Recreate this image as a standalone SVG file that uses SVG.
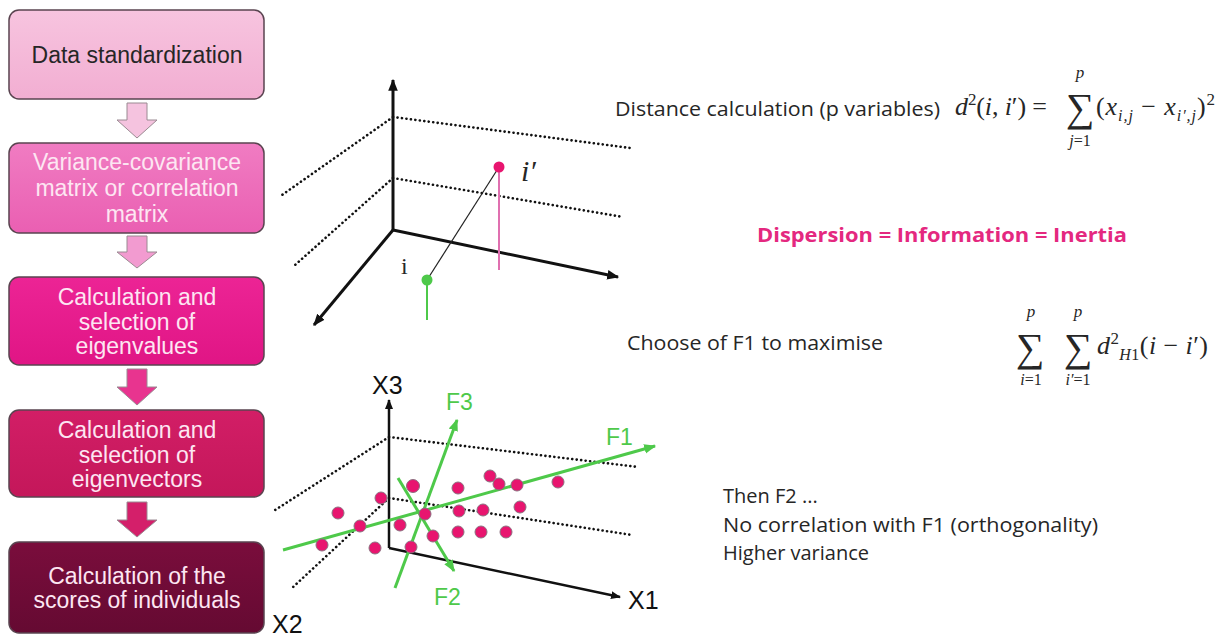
<svg xmlns="http://www.w3.org/2000/svg" width="1227" height="637" viewBox="0 0 1227 637">
<defs>
<style>
.box{stroke:#5a4450;stroke-width:1.5}
.bt{font-family:"Liberation Sans",Arial,sans-serif;font-size:23px;text-anchor:middle}
.dark{fill:#262626}
.light{fill:#fde6f2}
.ax{stroke:#111;stroke-width:3;fill:none}
.dot{stroke:#111;stroke-width:2.6;stroke-dasharray:0.1 4.4;stroke-linecap:round;fill:none}
.grn{stroke:#4ec94a;stroke-width:3;fill:none}
.pt{fill:#e8156f;stroke:#8c7080;stroke-width:1}
.lbl{font-family:"Liberation Sans",Arial,sans-serif;font-size:25px;fill:#111}
.glbl{font-family:"Liberation Sans",Arial,sans-serif;font-size:23px;fill:#4ec94a}
.txt{font-family:"Open Sans","Noto Sans",sans-serif;font-size:20px;fill:#262626}
.m{font-family:"Liberation Serif","DejaVu Serif",serif;fill:#262626}
.it{font-style:italic}
.arr{stroke:#9a8a92;stroke-width:1}
</style>
<linearGradient id="g1" x1="0" y1="0" x2="0" y2="1"><stop offset="0" stop-color="#f7c4df"/><stop offset="1" stop-color="#f2aed2"/></linearGradient>
<linearGradient id="g2" x1="0" y1="0" x2="0" y2="1"><stop offset="0" stop-color="#f07cc2"/><stop offset="1" stop-color="#ea5fb2"/></linearGradient>
<linearGradient id="g3" x1="0" y1="0" x2="0" y2="1"><stop offset="0" stop-color="#ec2495"/><stop offset="1" stop-color="#e01585"/></linearGradient>
<linearGradient id="g4" x1="0" y1="0" x2="0" y2="1"><stop offset="0" stop-color="#d21e66"/><stop offset="1" stop-color="#c4175a"/></linearGradient>
<linearGradient id="g5" x1="0" y1="0" x2="0" y2="1"><stop offset="0" stop-color="#7a0d3c"/><stop offset="1" stop-color="#650a32"/></linearGradient>
<marker id="ah" viewBox="0 0 10 10" refX="9" refY="5" markerWidth="4" markerHeight="4" orient="auto" markerUnits="strokeWidth"><path d="M0,1 L10,5 L0,9 z" fill="#111"/></marker>
<marker id="ahg" viewBox="0 0 10 10" refX="9" refY="5" markerWidth="4" markerHeight="4" orient="auto" markerUnits="strokeWidth"><path d="M0,1 L10,5 L0,9 z" fill="#4ec94a"/></marker>
</defs>
<rect width="1227" height="637" fill="#ffffff"/>

<g id="node-data-standardization">
<rect class="box" x="9" y="10" width="255" height="89" rx="10" fill="url(#g1)"/>
<text class="bt dark" x="137" y="63">Data standardization</text>
</g>
<g id="node-variance-covariance">
<rect class="box" x="9" y="143" width="255" height="90" rx="10" fill="url(#g2)"/>
<text class="bt light" x="137" y="170">Variance-covariance</text>
<text class="bt light" x="137" y="196">matrix or correlation</text>
<text class="bt light" x="137" y="222">matrix</text>
</g>
<g id="node-eigenvalues">
<rect class="box" x="9" y="277" width="255" height="88" rx="10" fill="url(#g3)"/>
<text class="bt light" x="137" y="305">Calculation and</text>
<text class="bt light" x="137" y="330">selection of</text>
<text class="bt light" x="137" y="354">eigenvalues</text>
</g>
<g id="node-eigenvectors">
<rect class="box" x="9" y="410" width="255" height="87" rx="10" fill="url(#g4)"/>
<text class="bt light" x="137" y="438">Calculation and</text>
<text class="bt light" x="137" y="463">selection of</text>
<text class="bt light" x="137" y="487">eigenvectors</text>
</g>
<g id="node-scores">
<rect class="box" x="9" y="542" width="255" height="91" rx="10" fill="url(#g5)"/>
<text class="bt light" x="137" y="584">Calculation of the</text>
<text class="bt light" x="137" y="608">scores of individuals</text>
</g>

<g id="connectors">
<path class="arr" d="M127,103 H147 V120 H157 L137,138 L117,120 H127 Z" fill="#f5c3df"/>
<path class="arr" d="M127,236 H147 V252 H157 L137,268 L117,252 H127 Z" fill="#f29bd0"/>
<path class="arr" d="M127,369 H147 V387 H157 L137,405 L117,387 H127 Z" fill="#e8348f"/>
<path class="arr" d="M127,502 H147 V520 H157 L137,537 L117,520 H127 Z" fill="#d41f6a"/>
</g>

<g id="top-3d">
<path class="dot" d="M393,117 L630,148 M393,117 L282,195 M393,178 L623,217 M393,178 L295,265"/>
<line class="ax" x1="393" y1="230" x2="393" y2="80" marker-end="url(#ah)"/>
<line class="ax" x1="393" y1="230" x2="618" y2="277" marker-end="url(#ah)"/>
<line class="ax" x1="393" y1="230" x2="314" y2="325" marker-end="url(#ah)"/>
<line x1="427" y1="280" x2="499" y2="167" stroke="#222" stroke-width="1.2"/>
<line x1="499" y1="167" x2="499" y2="270" stroke="#e070b0" stroke-width="2"/>
<line x1="427" y1="280" x2="427" y2="320" stroke="#4ec94a" stroke-width="2"/>
<circle cx="499" cy="167" r="5.5" fill="#e8156f"/>
<circle cx="427" cy="280" r="5.5" fill="#4ec94a"/>
<text class="m" x="401" y="274" font-size="24">i</text>
<text class="m it" x="521" y="181" font-size="30">i′</text>
</g>

<g id="bottom-3d">
<path class="dot" d="M389,437 L638,467 M389,437 L272,512 M389,498 L632,535 M389,498 L292,588"/>
<line class="ax" x1="389" y1="548" x2="389" y2="400" marker-end="url(#ah)" style="stroke-width:2.5"/>
<line class="ax" x1="389" y1="548" x2="620" y2="597" marker-end="url(#ah)" style="stroke-width:2.5"/>
<line class="grn" x1="283" y1="550" x2="655" y2="446" marker-end="url(#ahg)"/>
<line class="grn" x1="395" y1="588" x2="457" y2="420" marker-end="url(#ahg)"/>
<line class="grn" x1="398" y1="478" x2="454" y2="571" marker-end="url(#ahg)"/>
<g>
<circle class="pt" cx="490" cy="476" r="6"/>
<circle class="pt" cx="499" cy="484" r="6"/>
<circle class="pt" cx="517" cy="485" r="6"/>
<circle class="pt" cx="558" cy="482" r="6"/>
<circle class="pt" cx="413" cy="486" r="6.5"/>
<circle class="pt" cx="458" cy="488" r="6"/>
<circle class="pt" cx="381" cy="498" r="6"/>
<circle class="pt" cx="338" cy="513" r="6"/>
<circle class="pt" cx="360" cy="526" r="6"/>
<circle class="pt" cx="322" cy="545" r="6"/>
<circle class="pt" cx="375" cy="548" r="6"/>
<circle class="pt" cx="400" cy="525" r="6"/>
<circle class="pt" cx="425" cy="514" r="6"/>
<circle class="pt" cx="459" cy="511" r="6"/>
<circle class="pt" cx="483" cy="510" r="6"/>
<circle class="pt" cx="520" cy="507" r="6"/>
<circle class="pt" cx="433" cy="536" r="6"/>
<circle class="pt" cx="458" cy="532" r="6"/>
<circle class="pt" cx="481" cy="532" r="6"/>
<circle class="pt" cx="506" cy="532" r="6"/>
<circle class="pt" cx="411" cy="547" r="6"/>
</g>
<text class="lbl" x="372" y="394">X3</text>
<text class="lbl" x="628" y="609">X1</text>
<text class="lbl" x="272" y="633">X2</text>
<text class="glbl" x="606" y="445">F1</text>
<text class="glbl" x="446" y="410">F3</text>
<text class="glbl" x="434" y="605">F2</text>
</g>

<g id="text-distance">
<text class="txt" x="615" y="116" textLength="325" lengthAdjust="spacingAndGlyphs">Distance calculation (p variables)</text>
<text class="m" x="955" y="115" font-size="26" textLength="92"><tspan class="it">d</tspan><tspan font-size="17" dy="-10">2</tspan><tspan dy="10">(</tspan><tspan class="it">i</tspan>, <tspan class="it">i</tspan>′) =</text>
<text class="m" x="1080" y="121" font-size="40" text-anchor="middle">∑</text>
<text class="m it" x="1080" y="78" font-size="17" text-anchor="middle">p</text>
<text class="m" x="1080" y="146" font-size="16" text-anchor="middle"><tspan class="it">j</tspan>=1</text>
<text class="m" x="1096" y="115" font-size="26" textLength="119">(<tspan class="it">x</tspan><tspan class="it" font-size="16" dy="6">i,j</tspan><tspan dy="-6"> − </tspan><tspan class="it">x</tspan><tspan class="it" font-size="16" dy="6">i′,j</tspan><tspan dy="-6">)</tspan><tspan font-size="17" dy="-10">2</tspan></text>
</g>

<text id="text-dispersion" x="757" y="242" font-family="Open Sans,Noto Sans,sans-serif" font-weight="bold" font-size="20" fill="#e4287f" textLength="370" lengthAdjust="spacingAndGlyphs">Dispersion = Information = Inertia</text>

<g id="text-choose">
<text class="txt" x="627" y="350" textLength="256" lengthAdjust="spacingAndGlyphs">Choose of F1 to maximise</text>
<text class="m" x="1030" y="361" font-size="40" text-anchor="middle">∑</text>
<text class="m" x="1078" y="361" font-size="40" text-anchor="middle">∑</text>
<text class="m it" x="1031" y="317" font-size="17" text-anchor="middle">p</text>
<text class="m it" x="1078" y="317" font-size="17" text-anchor="middle">p</text>
<text class="m" x="1031" y="385" font-size="16" text-anchor="middle"><tspan class="it">i</tspan>=1</text>
<text class="m" x="1078" y="385" font-size="16" text-anchor="middle"><tspan class="it">i′</tspan>=1</text>
<text class="m" x="1097" y="354" font-size="26" textLength="111"><tspan class="it">d</tspan><tspan font-size="17" dy="-10">2</tspan><tspan class="it" font-size="16" dy="16">H</tspan><tspan font-size="16">1</tspan><tspan dy="-6">(</tspan><tspan class="it">i</tspan> − <tspan class="it">i</tspan>′)</text>
</g>

<g id="text-then">
<text class="txt" x="723" y="503">Then F2 ...</text>
<text class="txt" x="723" y="532" textLength="375" lengthAdjust="spacingAndGlyphs">No correlation with F1 (orthogonality)</text>
<text class="txt" x="723" y="560">Higher variance</text>
</g>
</svg>
